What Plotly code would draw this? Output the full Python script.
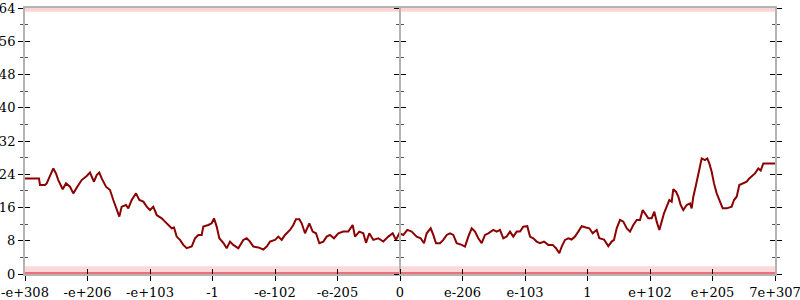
import plotly.graph_objects as go

# x axis: ordinal position of float values (13 evenly spaced ticks)
tick_labels = ["-e+308", "-e+206", "-e+103", "-1", "-e-102", "-e-205", "0",
               "e-206", "e-103", "1", "e+102", "e+205", "7e+307"]
tick_pos = list(range(len(tick_labels)))

line_x = [0, 0.224, 0.24, 0.32, 0.347, 0.40, 0.453, 0.496, 0.533, 0.603, 0.656, 0.72,
          0.773, 0.837, 0.907, 0.987, 1.04, 1.104, 1.147, 1.189, 1.227, 1.296, 1.36,
          1.413, 1.467, 1.509, 1.547, 1.616, 1.653, 1.707, 1.776, 1.829, 1.893, 1.947,
          2.0, 2.053, 2.107, 2.187, 2.24, 2.293, 2.347, 2.384, 2.427, 2.48, 2.533, 2.587,
          2.667, 2.72, 2.773, 2.827, 2.853, 2.933, 2.987, 3.024, 3.067, 3.109, 3.173,
          3.227, 3.28, 3.333, 3.413, 3.493, 3.547, 3.6, 3.653, 3.733, 3.813, 3.867, 3.92,
          4.0, 4.053, 4.107, 4.16, 4.24, 4.293, 4.336, 4.389, 4.427, 4.48, 4.549, 4.603,
          4.656, 4.709, 4.773, 4.827, 4.88, 4.944, 5.013, 5.093, 5.173, 5.243, 5.28,
          5.349, 5.413, 5.456, 5.509, 5.573, 5.653, 5.733, 5.813, 5.883, 5.936, 5.989,
          6.053, 6.117, 6.187, 6.267, 6.331, 6.384, 6.427, 6.491, 6.533, 6.576, 6.64,
          6.693, 6.747, 6.8, 6.853, 6.907, 6.987, 7.04, 7.093, 7.147, 7.2, 7.253, 7.307,
          7.36, 7.413, 7.493, 7.547, 7.6, 7.653, 7.707, 7.76, 7.813, 7.867, 7.92, 7.973,
          8.037, 8.08, 8.133, 8.187, 8.24, 8.304, 8.373, 8.443, 8.496, 8.549, 8.587,
          8.64, 8.693, 8.747, 8.8, 8.853, 8.907, 8.976, 9.029, 9.083, 9.147, 9.189,
          9.264, 9.333, 9.387, 9.424, 9.467, 9.52, 9.573, 9.627, 9.68, 9.733, 9.787,
          9.84, 9.883, 9.92, 9.973, 10.027, 10.069, 10.107, 10.149, 10.187, 10.224,
          10.267, 10.309, 10.347, 10.373, 10.416, 10.453, 10.491, 10.533, 10.587, 10.64,
          10.667, 10.693, 10.736, 10.773, 10.827, 10.88, 10.917, 10.949, 10.987, 11.024,
          11.067, 11.12, 11.163, 11.227, 11.307, 11.344, 11.387, 11.429, 11.493, 11.547,
          11.589, 11.643, 11.68, 11.733, 11.771, 11.813, 12.0]

line_y = [23.0, 23.0, 21.4, 21.4, 21.8, 23.8, 25.4, 24.2, 22.6, 20.4, 21.8, 21.0,
          19.4, 21.0, 22.6, 23.6, 24.4, 22.2, 23.8, 24.4, 23.0, 21.0, 20.2,
          17.8, 15.4, 13.8, 16.2, 16.6, 15.8, 17.8, 19.4, 17.8, 17.4, 16.2,
          15.4, 16.2, 14.2, 13.4, 12.6, 11.8, 11.0, 11.2, 9.0, 8.2, 7.0, 6.2,
          6.6, 8.6, 9.4, 9.4, 11.4, 11.8, 12.2, 13.4, 11.4, 8.6, 7.5,
          6.2, 7.8, 7.0, 6.2, 8.2, 8.6, 7.8, 6.6, 6.4, 5.9, 6.6, 7.8,
          8.2, 9.0, 8.2, 9.4, 10.6, 11.8, 13.2, 13.2, 12.2, 9.8, 12.2, 10.2,
          9.8, 7.4, 7.8, 9.0, 9.4, 8.6, 9.8, 10.2, 10.2, 11.8, 9.0,
          10.2, 9.8, 7.5, 9.8, 8.2, 8.6, 7.8, 9.0, 9.8, 8.2, 9.8,
          9.4, 10.6, 10.2, 9.0, 8.6, 7.4, 9.8, 11.0, 9.4, 7.4, 7.4,
          8.2, 9.4, 9.8, 9.4, 7.4, 7.0, 6.6, 9.0, 11.0, 10.2, 8.6, 7.4,
          9.4, 9.8, 10.6, 10.2, 10.6, 8.6, 9.0, 10.2, 9.0, 10.2, 10.2, 11.4,
          11.5, 9.0, 8.6, 7.8, 7.4, 7.8, 7.0, 7.0, 6.2, 5.0, 6.6,
          8.2, 8.6, 8.3, 9.0, 10.2, 11.5, 11.2, 11.0, 9.8, 10.6, 8.6,
          8.3, 6.7, 7.8, 8.2, 11.0, 13.0, 12.6, 11.0, 10.2, 11.8, 13.0,
          13.0, 15.4, 14.6, 13.4, 13.4, 15.0, 12.6, 10.6, 12.6, 14.6,
          16.2, 17.8, 17.4, 20.4, 19.8, 18.6, 16.6, 15.4, 16.6, 17.0,
          15.8, 18.6, 21.4, 23.8, 27.8, 27.4, 27.8, 26.6, 24.6, 21.8,
          19.4, 17.4, 15.8, 15.8, 16.2, 17.8, 18.6, 21.4, 21.8, 22.2,
          23.0, 23.8, 24.2, 25.4, 24.9, 26.6, 26.6]

# dense faint scatter bands at the bottom (near 0) and top (near 64)
band_x = [0, 12]
bottom_band_light = [0.9, 0.9]
bottom_band_dark = [0.1, 0.1]
top_band = [63.6, 63.6]

FONT = "DejaVu Serif"
AXIS_GRAY = "#b4b4b4"

fig = go.Figure()
fig.add_trace(go.Scatter(x=band_x, y=bottom_band_light, mode="lines",
                         line=dict(color="rgba(240,60,70,0.2)", width=8),
                         hoverinfo="skip", showlegend=False, cliponaxis=False))
fig.add_trace(go.Scatter(x=band_x, y=bottom_band_dark, mode="lines",
                         line=dict(color="rgba(230,40,55,0.6)", width=3),
                         hoverinfo="skip", showlegend=False, cliponaxis=False))
fig.add_trace(go.Scatter(x=band_x, y=top_band, mode="lines",
                         line=dict(color="rgba(240,60,70,0.22)", width=4),
                         hoverinfo="skip", showlegend=False, cliponaxis=False))
fig.add_trace(go.Scatter(x=line_x, y=line_y, mode="lines",
                         line=dict(color="#8b0000", width=2),
                         hoverinfo="skip", showlegend=False))
# dummy traces to activate overlay axes for crossing ticks
for xa, ya in [("x2", "y2"), ("x", "y3"), ("x", "y4")]:
    fig.add_trace(go.Scatter(x=[None], y=[None], xaxis=xa, yaxis=ya,
                             showlegend=False, hoverinfo="skip"))

yrange = [0, 64]
xrange = [0, 12]
common_y = dict(range=yrange, tickmode="linear", tick0=0, dtick=8,
                tickcolor="black", tickwidth=1, ticklen=5, showgrid=False,
                zeroline=False, fixedrange=True, automargin=False)
minor_out = dict(dtick=4, tick0=0, ticklen=3, ticks="outside", tickcolor="#555")
minor_in = dict(dtick=4, tick0=0, ticklen=3, ticks="inside", tickcolor="#555")

fig.update_layout(
    width=800, height=300,
    margin=dict(l=25, r=25, t=8, b=26),
    paper_bgcolor="white", plot_bgcolor="white",
    font=dict(family=FONT, size=13, color="black"),
    xaxis=dict(range=xrange, tickmode="array", tickvals=tick_pos, ticktext=tick_labels,
               ticks="outside", ticklen=5, tickcolor="black", showline=True,
               linecolor=AXIS_GRAY, linewidth=2, mirror=True, showgrid=False,
               zeroline=False, fixedrange=True, automargin=False,
               ticklabeloverflow="allow"),
    xaxis2=dict(range=xrange, overlaying="x", anchor="y", tickmode="array",
                tickvals=tick_pos, ticks="inside", ticklen=5, tickcolor="black",
                showticklabels=False, showline=False, showgrid=False,
                zeroline=False, fixedrange=True, automargin=False),
    yaxis=dict(**common_y, ticks="outside", showline=True, linecolor=AXIS_GRAY,
               linewidth=2, mirror="ticks", minor=minor_out, ticklabeloverflow="allow"),
    yaxis2=dict(**common_y, overlaying="y", anchor="x2", ticks="inside",
                showticklabels=False, showline=False, mirror="ticks", minor=minor_in),
    yaxis3=dict(**common_y, overlaying="y", anchor="free", position=0.5,
                ticks="outside", showticklabels=False, showline=True,
                linecolor=AXIS_GRAY, linewidth=2, minor=minor_out),
    yaxis4=dict(**common_y, overlaying="y", anchor="free", position=0.5,
                ticks="inside", showticklabels=False, showline=False, minor=minor_in),
)

fig.write_html("out.html")
